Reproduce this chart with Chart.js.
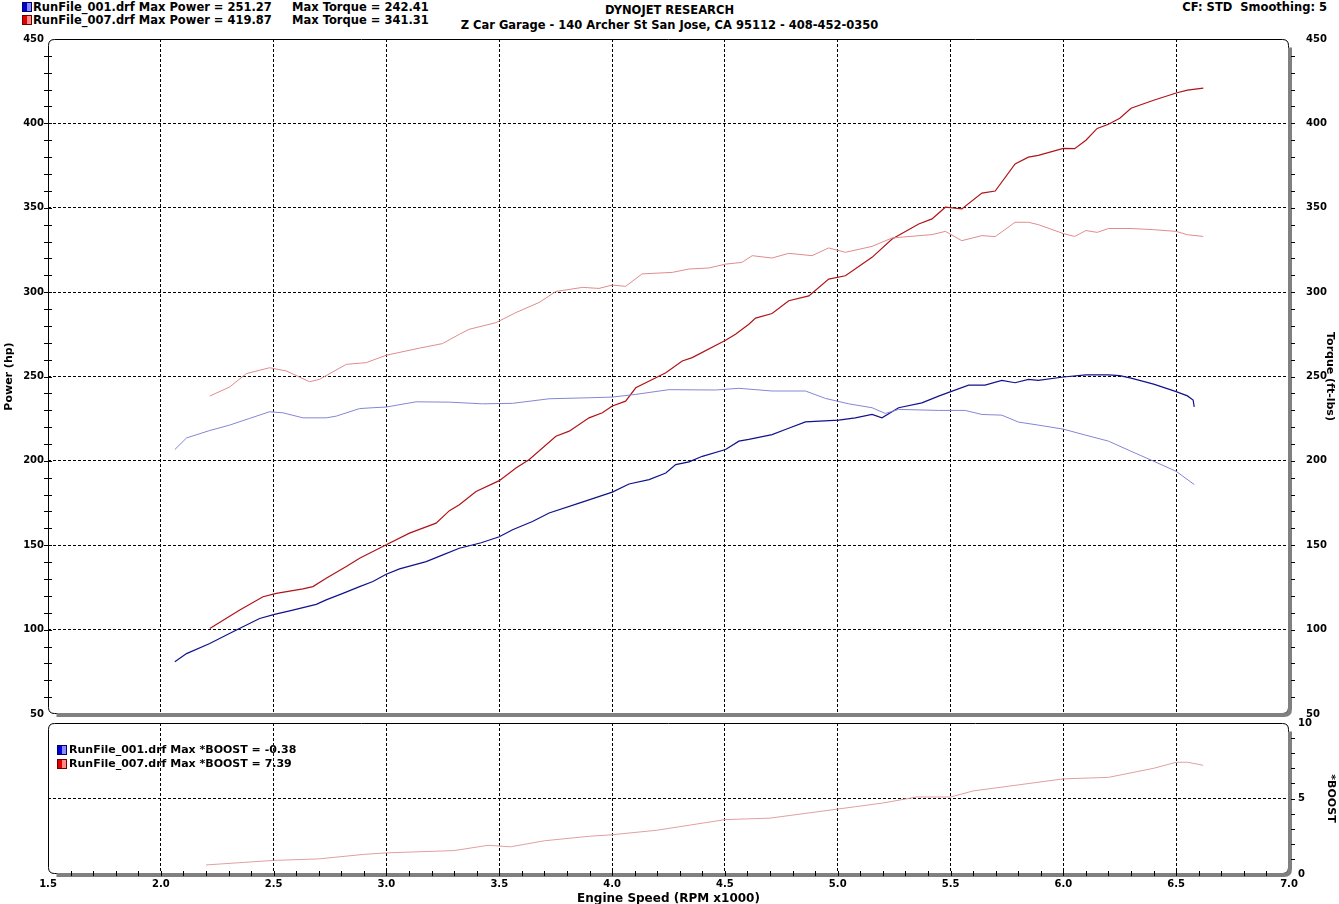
<!DOCTYPE html>
<html>
<head>
<meta charset="utf-8">
<title>Dyno run comparison</title>
<script src="https://cdn.jsdelivr.net/npm/chart.js@4.4.1/dist/chart.umd.min.js"></script>
<style>
  body { margin: 0; background: #fff; }
  #page { position: relative; width: 1339px; height: 904px; overflow: hidden;
          font-family: "DejaVu Sans", Verdana, sans-serif; font-weight: bold; font-size: 11px; color: #000; }
  .txt { position: absolute; white-space: pre; line-height: 13px; }
  .hdr { font-size: 11.5px; }
  .sq { position: absolute; width: 8px; height: 8px; border: 1px solid #000; }
  .sq.blue { background: linear-gradient(to right, #0000d0 0 50%, #8a8aff 50%); border-color: #00006a; }
  .sq.red { background: linear-gradient(to right, #e00000 0 50%, #ff8a8a 50%); border-color: #6a0000; }
  canvas { position: absolute; left: 0; }
</style>
</head>
<body>
<div id="page">
  <div class="sq blue" style="left:22px; top:2px;"></div>
  <div class="txt hdr" style="left:33px; top:1px;">RunFile_001.drf Max Power = 251.27</div>
  <div class="txt hdr" style="left:292px; top:1px;">Max Torque = 242.41</div>
  <div class="sq red" style="left:22px; top:15px;"></div>
  <div class="txt hdr" style="left:33px; top:14px;">RunFile_007.drf Max Power = 419.87</div>
  <div class="txt hdr" style="left:292px; top:14px;">Max Torque = 341.31</div>

  <div class="txt hdr" style="left:0; width:1339px; text-align:center; top:4px;">DYNOJET RESEARCH</div>
  <div class="txt hdr" style="left:0; width:1339px; text-align:center; top:19px;">Z Car Garage - 140 Archer St San Jose, CA 95112 - 408-452-0350</div>
  <div class="txt hdr" style="right:12px; top:1px;">CF: STD  Smoothing: 5</div>

  <canvas id="mainChart" width="1339" height="729" style="top:0;"></canvas>
  <canvas id="boostChart" width="1339" height="199" style="top:708px;"></canvas>

  <div class="sq blue" style="left:57px; top:745px;"></div>
  <div class="txt" style="left:69px; top:743px;">RunFile_001.drf Max *BOOST = -0.38</div>
  <div class="sq red" style="left:57px; top:759px;"></div>
  <div class="txt" style="left:69px; top:757px;">RunFile_007.drf Max *BOOST = 7.39</div>
</div>

<script>
// Engine speed in RPM x1000; power in hp, torque in ft-lbs, boost in psi

// RunFile_001 (blue)
const run001PowerRpm = [2.062, 2.114, 2.217, 2.291, 2.364, 2.438, 2.504, 2.585, 2.630, 2.689, 2.733, 2.807, 2.881, 2.940, 2.999,
  3.058, 3.176, 3.250, 3.323, 3.420, 3.500, 3.559, 3.647, 3.721, 3.854, 4.001, 4.075, 4.164, 4.238, 4.282, 4.341, 4.400,
  4.503, 4.562, 4.606, 4.709, 4.768, 4.857, 5.004, 5.078, 5.152, 5.196, 5.270, 5.373, 5.447, 5.501, 5.580, 5.653, 5.727,
  5.786, 5.845, 5.889, 6.000, 6.100, 6.200, 6.250, 6.300, 6.400, 6.500, 6.550, 6.575, 6.580];
const run001Power = [81.0, 85.8, 91.8, 96.8, 101.7, 106.6, 109.0, 111.6, 113.0, 115.0, 117.6, 121.5, 125.5, 128.5, 132.8,
  136.0, 140.3, 144.3, 148.2, 151.5, 155.0, 159.2, 164.1, 169.1, 175.0, 181.5, 186.3, 188.9, 192.8, 197.8, 199.4, 202.7,
  206.7, 211.7, 212.7, 215.6, 218.6, 223.1, 224.1, 225.5, 227.5, 225.5, 231.5, 234.4, 238.4, 241.0, 244.9, 244.9, 247.7,
  246.3, 248.3, 247.7, 249.7, 251.0, 251.0, 250.5, 249.0, 245.5, 241.0, 238.5, 236.0, 232.0];

const run001TorqueRpm = [2.062, 2.114, 2.217, 2.305, 2.394, 2.482, 2.541, 2.630, 2.733, 2.777, 2.881, 2.940, 2.999, 3.131,
  3.279, 3.426, 3.559, 3.721, 3.898, 4.001, 4.105, 4.252, 4.459, 4.562, 4.709, 4.857, 4.946, 5.049, 5.152, 5.211, 5.270,
  5.447, 5.565, 5.639, 5.727, 5.801, 5.889, 6.000, 6.100, 6.200, 6.300, 6.400, 6.500, 6.580];
const run001Torque = [206.7, 213.6, 218.0, 221.2, 225.2, 229.1, 228.5, 225.5, 225.5, 226.5, 231.0, 231.5, 231.9, 235.0,
  234.8, 233.8, 234.1, 236.8, 237.4, 237.8, 239.4, 242.2, 242.0, 243.0, 241.4, 241.4, 237.0, 233.8, 231.5, 228.1, 230.5,
  229.9, 229.9, 227.5, 227.1, 223.0, 221.2, 218.8, 215.2, 211.7, 205.7, 199.8, 193.8, 186.0];

// RunFile_007 (red)
const run007PowerRpm = [2.217, 2.350, 2.453, 2.512, 2.630, 2.674, 2.733, 2.822, 2.881, 2.940, 2.999, 3.102, 3.220, 3.279,
  3.323, 3.397, 3.500, 3.574, 3.633, 3.751, 3.810, 3.898, 3.957, 4.001, 4.060, 4.105, 4.238, 4.311, 4.355, 4.503, 4.547,
  4.606, 4.636, 4.709, 4.783, 4.872, 4.960, 5.034, 5.152, 5.241, 5.359, 5.418, 5.477, 5.550, 5.639, 5.698, 5.786, 5.845,
  5.889, 6.000, 6.050, 6.100, 6.150, 6.200, 6.250, 6.300, 6.400, 6.500, 6.550, 6.620];
const run007Power = [100.7, 111.6, 119.5, 121.5, 124.1, 125.5, 130.4, 137.4, 142.3, 146.3, 150.3, 157.2, 163.1, 170.5,
  174.0, 181.9, 188.3, 195.8, 200.8, 214.6, 217.6, 225.5, 228.5, 232.5, 235.4, 243.3, 252.2, 259.2, 261.2, 271.5, 275.0,
  281.0, 284.6, 287.3, 294.9, 297.8, 307.7, 309.7, 320.6, 331.5, 340.4, 343.4, 350.3, 349.3, 358.7, 359.9, 376.0, 380.0,
  381.0, 385.2, 385.0, 390.0, 397.0, 399.5, 403.0, 409.0, 413.7, 418.0, 419.7, 420.9];

const run007TorqueRpm = [2.217, 2.305, 2.379, 2.482, 2.556, 2.659, 2.703, 2.822, 2.910, 2.999, 3.146, 3.248, 3.323, 3.367,
  3.485, 3.574, 3.677, 3.751, 3.869, 3.942, 4.001, 4.060, 4.133, 4.267, 4.341, 4.429, 4.503, 4.575, 4.621, 4.709, 4.783,
  4.886, 4.960, 5.034, 5.152, 5.241, 5.418, 5.477, 5.550, 5.639, 5.698, 5.786, 5.845, 5.889, 6.000, 6.050, 6.100, 6.150,
  6.200, 6.300, 6.400, 6.500, 6.550, 6.620];
const run007Torque = [238.4, 243.8, 251.7, 255.2, 253.3, 246.9, 248.3, 257.2, 258.2, 262.6, 266.8, 269.5, 275.0, 278.0,
  281.9, 287.9, 293.9, 300.4, 302.8, 302.2, 304.2, 303.4, 310.8, 311.7, 313.7, 314.3, 316.6, 317.6, 321.6, 320.2, 323.0,
  321.6, 326.2, 323.6, 327.1, 332.1, 334.1, 336.0, 330.5, 333.5, 332.9, 341.4, 341.4, 340.0, 334.7, 333.0, 336.5, 335.4,
  337.7, 337.7, 337.0, 336.0, 334.0, 333.0];

const run007BoostRpm = [2.20, 2.50, 2.70, 2.90, 3.00, 3.30, 3.45, 3.55, 3.70, 3.90, 4.00, 4.20, 4.50, 4.70, 4.90, 5.00,
  5.20, 5.35, 5.50, 5.60, 5.80, 6.00, 6.20, 6.30, 6.40, 6.50, 6.55, 6.62];
const run007Boost = [0.6, 0.9, 1.0, 1.3, 1.4, 1.55, 1.9, 1.8, 2.2, 2.5, 2.6, 2.9, 3.6, 3.7, 4.1, 4.3,
  4.7, 5.1, 5.1, 5.5, 5.9, 6.3, 6.4, 6.7, 7.0, 7.4, 7.4, 7.2];

// Axis settings
const rpmMin = 1.5, rpmMax = 7.0, rpmStep = 0.5;
const powerMin = 50, powerMax = 450, powerStep = 50;
const boostMin = 0, boostMax = 10, boostStep = 5;

const FONT = '"DejaVu Sans", Verdana, sans-serif';
const CHART_LEFT = 48, CHART_RIGHT = 1289, PAGE_W = 1339;

function points(xs, ys) {
  return xs.map((x, i) => ({ x: x, y: ys[i] }));
}

function line(data, color, width, axis) {
  return {
    data: data, yAxisID: axis, borderColor: color, borderWidth: width,
    pointRadius: 0, tension: 0, fill: false
  };
}

// dashed grid, hidden on the frame edges
function gridOpts(lo, hi) {
  return {
    display: true, drawTicks: false, lineWidth: 1,
    color: c => (c.tick && (Math.abs(c.tick.value - lo) < 1e-6 || Math.abs(c.tick.value - hi) < 1e-6)) ? 'rgba(0,0,0,0)' : '#000'
  };
}

const tickFont = { family: FONT, size: 10, weight: 'bold' };
const titleFont = { family: FONT, size: 11, weight: 'bold' };

// Rounded frame, grey shadow and minor tick marks like the dyno software draws
const dynoFrame = {
  id: 'dynoFrame',
  afterDatasetsDraw(chart, args, opts) {
    const { ctx, chartArea: a, scales } = chart;
    const L = a.left + 0.5, T = a.top + 0.5, R = a.right - 0.5, B = a.bottom - 0.5, r = 6;
    ctx.save();
    ctx.strokeStyle = '#000';
    ctx.lineWidth = 1;
    ctx.beginPath();
    ctx.moveTo(L, B - r);
    ctx.lineTo(L, T + r);
    ctx.quadraticCurveTo(L, T, L + r, T);
    ctx.lineTo(R - r, T);
    ctx.quadraticCurveTo(R, T, R, T + r);
    ctx.lineTo(R, B - r);
    ctx.quadraticCurveTo(R, B, R - r, B);
    ctx.lineTo(L + r, B);
    ctx.quadraticCurveTo(L, B, L, B - r);
    ctx.stroke();

    ctx.strokeStyle = '#808080';
    ctx.lineWidth = 4;
    ctx.beginPath();
    ctx.moveTo(R + 1.5, T + r + 2);
    ctx.lineTo(R + 1.5, B + 1.5 - r);
    ctx.quadraticCurveTo(R + 1.5, B + 1.5, R + 1.5 - r, B + 1.5);
    ctx.lineTo(L + r + 2, B + 1.5);
    ctx.stroke();

    ctx.strokeStyle = '#000';
    ctx.lineWidth = 1;
    ctx.beginPath();
    if (opts.left) {
      const s = scales[opts.left.axis];
      const n = Math.round((s.max - s.min) / opts.left.step);
      for (let i = 1; i < n; i++) {
        const y = Math.round(s.getPixelForValue(s.min + i * opts.left.step)) + 0.5;
        ctx.moveTo(a.left - 4, y);
        ctx.lineTo(a.left + 4, y);
      }
    }
    if (opts.right) {
      const s = scales[opts.right.axis];
      const n = Math.round((s.max - s.min) / opts.right.step);
      for (let i = 1; i < n; i++) {
        const y = Math.round(s.getPixelForValue(s.min + i * opts.right.step)) + 0.5;
        ctx.moveTo(a.right + 2, y);
        ctx.lineTo(a.right + 6, y);
      }
    }
    if (opts.bottom) {
      const s = scales.x;
      const n = Math.round((s.max - s.min) / opts.bottom.step);
      for (let i = 1; i < n; i++) {
        const x = Math.round(s.getPixelForValue(s.min + i * opts.bottom.step)) + 0.5;
        ctx.moveTo(x, a.bottom - 3);
        ctx.lineTo(x, a.bottom + 2);
      }
    }
    ctx.stroke();
    ctx.restore();
  }
};

const baseOptions = {
  responsive: false,
  animation: false,
  events: [],
  plugins: { legend: { display: false }, tooltip: { enabled: false } }
};

// Power / torque panel
new Chart(document.getElementById('mainChart'), {
  type: 'line',
  data: {
    datasets: [
      line(points(run001TorqueRpm, run001Torque), '#8585d6', 1, 'y2'),
      line(points(run007TorqueRpm, run007Torque), '#e08c8c', 1, 'y2'),
      line(points(run001PowerRpm, run001Power), '#12128c', 1.2, 'y'),
      line(points(run007PowerRpm, run007Power), '#b01418', 1.2, 'y')
    ]
  },
  options: {
    ...baseOptions,
    layout: { padding: { top: 39, left: 0, right: 0, bottom: 0 } },
    scales: {
      x: {
        type: 'linear', min: rpmMin, max: rpmMax,
        ticks: { display: false, stepSize: rpmStep },
        grid: gridOpts(rpmMin, rpmMax),
        border: { display: false, dash: [3, 2] },
        afterFit: s => { s.height = 8; }
      },
      y: {
        position: 'left', min: powerMin, max: powerMax,
        ticks: { stepSize: powerStep, color: '#000', font: tickFont, padding: 4 },
        grid: gridOpts(powerMin, powerMax),
        border: { display: false, dash: [3, 2] },
        title: { display: true, text: 'Power (hp)', color: '#000', font: titleFont, padding: { top: 3, bottom: 0 } },
        afterFit: s => { s.width = CHART_LEFT; }
      },
      y2: {
        position: 'right', min: powerMin, max: powerMax,
        ticks: { stepSize: powerStep, color: '#000', font: tickFont, padding: 9 },
        grid: { display: false },
        border: { display: false },
        title: { display: true, text: 'Torque (ft-lbs)', color: '#000', font: titleFont, padding: { top: 3, bottom: 0 } },
        afterFit: s => { s.width = PAGE_W - CHART_RIGHT; }
      }
    },
    plugins: {
      ...baseOptions.plugins,
      dynoFrame: { left: { axis: 'y', step: 10 }, right: { axis: 'y2', step: 10 } }
    }
  },
  plugins: [dynoFrame]
});

// Boost panel
new Chart(document.getElementById('boostChart'), {
  type: 'line',
  data: {
    datasets: [
      line(points(run007BoostRpm, run007Boost), '#e0a0a0', 1, 'yb')
    ]
  },
  options: {
    ...baseOptions,
    layout: { padding: { top: 7, left: CHART_LEFT, right: 0, bottom: 0 } },
    scales: {
      x: {
        type: 'linear', min: rpmMin, max: rpmMax,
        ticks: { stepSize: rpmStep, color: '#000', font: tickFont, padding: 4, callback: v => v.toFixed(1) },
        grid: gridOpts(rpmMin, rpmMax),
        border: { display: false, dash: [3, 2] },
        title: { display: true, text: 'Engine Speed (RPM x1000)', color: '#000', font: { family: FONT, size: 12, weight: 'bold' }, padding: { top: 0, bottom: 1 } },
        afterFit: s => { s.height = 33; }
      },
      yb: {
        position: 'right', min: boostMin, max: boostMax,
        ticks: { stepSize: boostStep, color: '#000', font: tickFont, padding: 9 },
        grid: gridOpts(boostMin, boostMax),
        border: { display: false, dash: [3, 2] },
        title: { display: true, text: '*BOOST', color: '#000', font: titleFont, padding: { top: 2, bottom: 0 } },
        afterFit: s => { s.width = PAGE_W - CHART_RIGHT; }
      }
    },
    plugins: {
      ...baseOptions.plugins,
      dynoFrame: { right: { axis: 'yb', step: 1 }, bottom: { step: 0.1 } }
    }
  },
  plugins: [dynoFrame]
});
</script>
</body>
</html>
